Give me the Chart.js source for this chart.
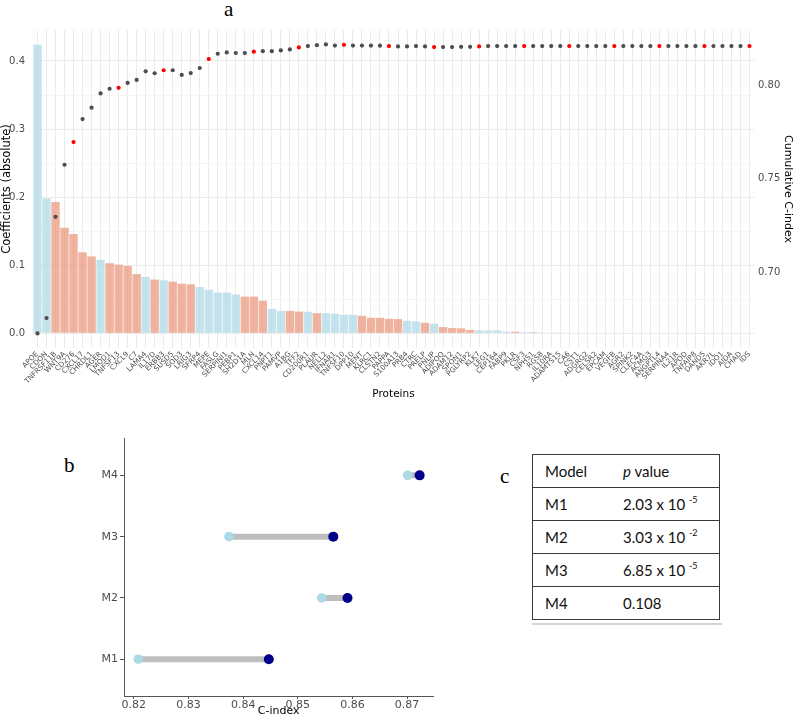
<!DOCTYPE html>
<html>
<head>
<meta charset="utf-8">
<script src="https://cdn.jsdelivr.net/npm/chart.js@4.4.1/dist/chart.umd.min.js"></script>
<style>
  html, body { margin:0; padding:0; background:#fff; }
  body { width:794px; height:718px; position:relative; overflow:hidden; }
  canvas { position:absolute; }
  .plabel { position:absolute; font-family:"Liberation Serif", "DejaVu Serif", serif; font-size:21px; line-height:21px; color:#000; }
  #tbl { position:absolute; left:532px; top:454px; border-collapse:collapse; font-family:Lato, "Open Sans", sans-serif; font-size:15px; color:#111; }
  #tbl td { height:32px; padding:0; border-top:1.5px solid #3a3a3a; border-bottom:1.5px solid #3a3a3a; vertical-align:middle; }
  #tbl td.c1 { width:78px; padding-left:12px; border-left:1.5px solid #3a3a3a; }
  #tbl td.c2 { width:96px; border-right:1.5px solid #3a3a3a; }
  #tbl sup { font-size:9px; vertical-align:7px; line-height:0; }
  #under { position:absolute; left:532px; top:623px; width:190px; height:2px; background:#d4d4d4; }
</style>
</head>
<body>
<div class="plabel" style="left:224px; top:-1px;">a</div>
<div class="plabel" style="left:64px; top:455px;">b</div>
<div class="plabel" style="left:500px; top:466px;">c</div>

<canvas id="chartA" width="794" height="405" style="left:0; top:0;"></canvas>
<canvas id="chartB" width="400" height="288" style="left:60px; top:430px;"></canvas>

<table id="tbl"></table>
<div id="under"></div>

<script>
// ---------------- DATA ----------------
const proteins = [
  "APOE","CDON","TNFRSF11B","WNT9A","CD276","CXCL17","CHRDL1","AGER","LMOD1","TNFSF13",
  "CXCL9","C7","LAMA4","IL17D","ERBB3","SUSD5","SOD3","LRIG3","SFRP4","MEPE",
  "FASLG","SERPINI1","PEBP1","SH2D1A","MLN","CXCL14","PNPT1","PAMVP","A1BG","TFF2",
  "CD200R1","PLAUR","NELL2","IFNAR1","TNFSF10","DPP10","MENT","KLRC1","CLSTN2","PAPPA",
  "S100A13","PRB4","CTRC","PRELP","PNLIP","ADIPOQ","ADAM12","SPON1","PGLYRP2","KLK7",
  "LEG1","CEP164","FABP9","PKLR","CSF3","NPHS1","RGS8","IL10RA","ADAMTS15","CA6",
  "CST1","ADGRG2","CELSR2","EPCAM","VEGFB","AGR2","SPINK2","CLEC4A","ACMG3","ANGPTL4",
  "SERPINA4","IL21R","APOD","TNFAIP8","DAND5","AKR7L","IDO1","AIDA","CHAD","IDS"
];

// absolute coefficients (left axis)
const coefficients = [
  0.424,0.198,0.193,0.155,0.146,0.119,0.113,0.108,0.103,0.101,
  0.099,0.087,0.083,0.079,0.078,0.076,0.073,0.072,0.068,0.064,
  0.060,0.060,0.057,0.054,0.054,0.048,0.036,0.033,0.033,0.032,
  0.0316,0.0297,0.0297,0.0287,0.0273,0.0273,0.0258,0.0229,0.0229,0.0214,
  0.0209,0.0185,0.0175,0.0156,0.0141,0.0092,0.0078,0.0073,0.0049,0.0044,
  0.0044,0.0044,0.0024,0.0024,0.0018,0.0016,0.0012,0.0010,0.0010,0.0008,
  0.0007,0.0006,0.0004,0,0,0,0,0,0,0,
  0,0,0,0,0,0,0,0,0,0
];

// sign of coefficient (-1 / +1) -> bar colour group
const coefSign = [
  -1,-1, 1, 1, 1, 1, 1,-1, 1, 1,
   1, 1,-1, 1,-1, 1, 1, 1,-1,-1,
  -1,-1,-1, 1, 1, 1,-1,-1, 1, 1,
  -1, 1,-1,-1,-1,-1, 1, 1, 1, 1,
   1,-1,-1, 1,-1, 1, 1, 1, 1,-1,
  -1,-1,-1, 1,-1, 1,-1,-1, 1,-1,
  -1, 1,-1,-1,-1,-1,-1,-1,-1,-1,
  -1,-1,-1,-1,-1,-1,-1,-1,-1,-1
];

// cumulative C-index (right axis)
const cumulativeCIndex = [
  0.6674,0.6756,0.7297,0.7575,0.7696,0.7819,0.7880,0.7956,0.7981,0.7986,
  0.8012,0.8028,0.8074,0.8064,0.8080,0.8080,0.8055,0.8065,0.8092,0.8140,
  0.8168,0.8175,0.8172,0.8172,0.8179,0.8182,0.8182,0.8186,0.8191,0.8202,
  0.8209,0.8214,0.8218,0.8212,0.8216,0.8212,0.8212,0.8212,0.8211,0.8209,
  0.8207,0.8207,0.8209,0.8207,0.8204,0.8204,0.8204,0.8205,0.8205,0.8207,
  0.8209,0.8209,0.8209,0.8209,0.8209,0.8209,0.8209,0.8209,0.8209,0.8209,
  0.8209,0.8209,0.8209,0.8209,0.8209,0.8209,0.8209,0.8209,0.8209,0.8209,
  0.8209,0.8209,0.8209,0.8209,0.8209,0.8209,0.8209,0.8209,0.8209,0.8209
];

const coefTicks = [0.0, 0.1, 0.2, 0.3, 0.4];
const cindexTicks = [0.70, 0.75, 0.80];

// panel b
const models = ["M1","M2","M3","M4"];
const cIndexBaseline = [0.8208, 0.8544, 0.8374, 0.8701];
const cIndexWithProteins = [0.8447, 0.8591, 0.8565, 0.8723];
const cIndexAxisTicks = [0.82, 0.83, 0.84, 0.85, 0.86, 0.87];

// panel c
const pValueMantissa = ["2.03 x 10", "3.03 x 10", "6.85 x 10", "0.108"];
const pValueExponent = ["-5", "-2", "-5", null];

// ---------------- PANEL A ----------------
Chart.defaults.font.family = "'DejaVu Sans', 'Liberation Sans', sans-serif";
const BLUE = 'rgba(173,216,230,0.72)';
const SALMON = 'rgba(233,150,122,0.72)';

const minorCoefTicks = [];
for (let i = 0; i < coefTicks.length; i++) {
  minorCoefTicks.push(coefTicks[i]);
  if (i < coefTicks.length - 1) minorCoefTicks.push((coefTicks[i] + coefTicks[i+1]) / 2);
}
const isMajor = v => coefTicks.some(t => Math.abs(t - v) < 1e-9);

new Chart(document.getElementById('chartA'), {
  data: {
    labels: proteins,
    datasets: [
      {
        type: 'line',
        data: cumulativeCIndex,
        yAxisID: 'y1',
        showLine: false,
        pointRadius: 2.1,
        pointBorderWidth: 0,
        pointBackgroundColor: proteins.map((p, i) => ((i + 1) % 5 === 0 ? '#ff0000' : '#4d4d4d')),
        order: 0
      },
      {
        type: 'bar',
        data: coefficients,
        yAxisID: 'y',
        backgroundColor: coefSign.map(s => (s < 0 ? BLUE : SALMON)),
        borderWidth: 0,
        barPercentage: 0.93,
        categoryPercentage: 1.0,
        order: 1
      }
    ]
  },
  options: {
    responsive: false,
    animation: false,
    events: [],
    layout: { padding: { top: 30, left: 0, right: 0, bottom: 0 } },
    plugins: { legend: { display: false }, tooltip: { enabled: false } },
    scales: {
      x: {
        type: 'category',
        offset: true,
        grid: { display: true, offset: false, color: '#ebebeb', lineWidth: 1, drawTicks: false },
        border: { display: false },
        ticks: { autoSkip: false, maxRotation: 45, minRotation: 45, color: '#4d4d4d',
                 font: { size: 7.2 }, padding: 2 },
        title: { display: true, text: 'Proteins', color: '#000', font: { size: 10.5 },
                 padding: { top: 0, bottom: 4 } },
        afterFit: s => { s.height = 57; }
      },
      y: {
        position: 'left',
        min: -0.0215,
        max: 0.4455,
        afterBuildTicks: s => { s.ticks = minorCoefTicks.map(v => ({ value: v })); },
        grid: { color: c => (isMajor(c.tick.value) ? '#ebebeb' : '#f5f5f5'), lineWidth: 1, drawTicks: false },
        border: { display: false },
        ticks: { color: '#4d4d4d', font: { size: 10 }, padding: 8,
                 callback: v => (isMajor(v) ? v.toFixed(1) : '') },
        title: { display: true, text: 'Coefficients (absolute)', color: '#000', font: { size: 11.5 },
                 padding: { top: 0, bottom: 0 } },
        afterFit: s => { s.width = 33; }
      },
      y1: {
        position: 'right',
        min: 0.6596,
        max: 0.8295,
        afterBuildTicks: s => { s.ticks = cindexTicks.map(v => ({ value: v })); },
        grid: { display: false, drawTicks: false },
        border: { display: false },
        ticks: { color: '#4d4d4d', font: { size: 10 }, padding: 4, callback: v => v.toFixed(2) },
        title: { display: true, text: 'Cumulative C-index', color: '#000', font: { size: 11 },
                 padding: { top: 0, bottom: 2 } },
        afterFit: s => { s.width = 40; }
      }
    }
  }
});

// ---------------- PANEL B ----------------
const segmentSets = models.map((m, i) => ({
  type: 'line',
  data: [{ x: cIndexBaseline[i], y: i + 1 }, { x: cIndexWithProteins[i], y: i + 1 }],
  borderColor: '#bebebe',
  borderWidth: 6,
  pointRadius: 0,
  order: 2
}));

new Chart(document.getElementById('chartB'), {
  type: 'scatter',
  data: {
    datasets: [
      ...segmentSets,
      {
        type: 'scatter',
        data: models.map((m, i) => ({ x: cIndexBaseline[i], y: i + 1 })),
        pointRadius: 4.8,
        pointBorderWidth: 0,
        pointBackgroundColor: '#add8e6',
        order: 1
      },
      {
        type: 'scatter',
        data: models.map((m, i) => ({ x: cIndexWithProteins[i], y: i + 1 })),
        pointRadius: 5,
        pointBorderWidth: 0,
        pointBackgroundColor: '#00008b',
        order: 0
      }
    ]
  },
  options: {
    responsive: false,
    animation: false,
    events: [],
    layout: { padding: { top: 8.5, right: 26.7, left: 0, bottom: 0 } },
    plugins: { legend: { display: false }, tooltip: { enabled: false } },
    scales: {
      x: {
        type: 'linear',
        min: 0.8182,
        max: 0.8748,
        afterBuildTicks: s => { s.ticks = cIndexAxisTicks.map(v => ({ value: v })); },
        grid: { display: true, drawOnChartArea: false, drawTicks: true, tickLength: 3, color: '#555' },
        border: { display: true, color: '#555', width: 1 },
        ticks: { color: '#4d4d4d', font: { size: 11 }, padding: 0, callback: v => v.toFixed(2) },
        title: { display: true, text: 'C-index', color: '#000', font: { size: 11 },
                 padding: { top: 0, bottom: 0 } },
        afterFit: s => { s.height = 22; }
      },
      y: {
        type: 'linear',
        min: 0.4,
        max: 4.6,
        afterBuildTicks: s => { s.ticks = models.map((m, i) => ({ value: i + 1 })); },
        grid: { display: true, drawOnChartArea: false, drawTicks: true, tickLength: 4, color: '#555' },
        border: { display: true, color: '#555', width: 1 },
        ticks: { color: '#4d4d4d', font: { size: 11 }, padding: 2,
                 callback: v => models[Math.round(v) - 1] },
        afterFit: s => { s.width = 64; }
      }
    }
  }
});

// ---------------- PANEL C ----------------
const tbl = document.getElementById('tbl');
let html = '<tr><td class="c1">Model</td><td class="c2"><i>p</i> value</td></tr>';
models.forEach((m, i) => {
  const val = pValueExponent[i] ? pValueMantissa[i] + ' <sup>' + pValueExponent[i] + '</sup>' : pValueMantissa[i];
  html += '<tr><td class="c1">' + m + '</td><td class="c2">' + val + '</td></tr>';
});
tbl.innerHTML = html;
</script>
</body>
</html>
